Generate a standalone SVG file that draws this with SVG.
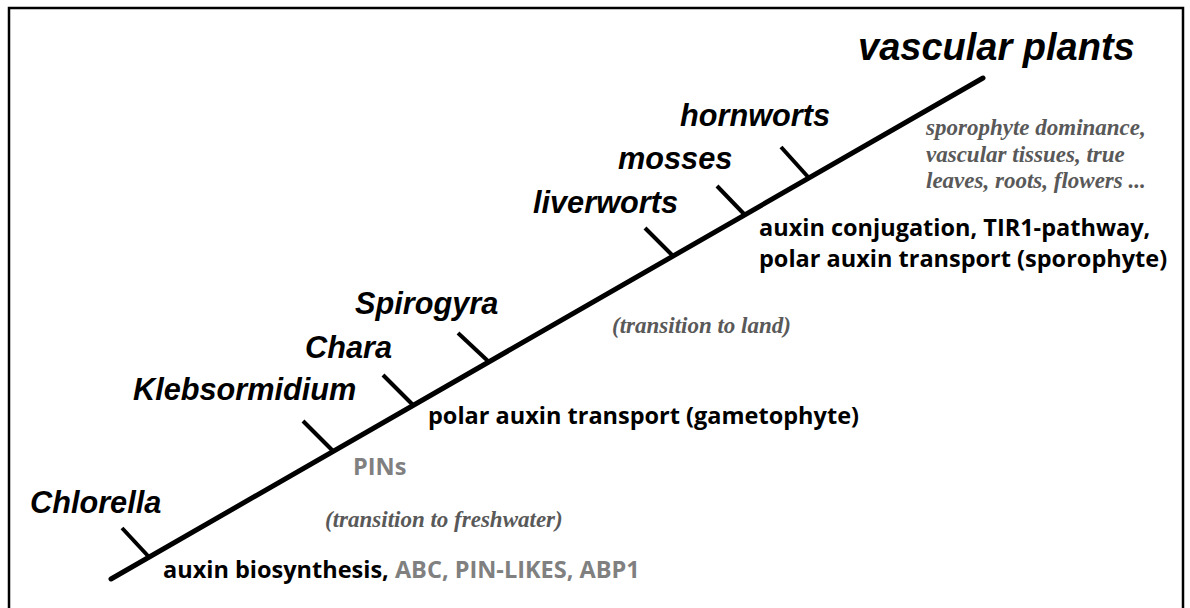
<svg xmlns="http://www.w3.org/2000/svg" width="1190" height="608" viewBox="0 0 1190 608">
<style>
.clade{font-family:"Liberation Sans",Arial,sans-serif;font-weight:bold;font-style:italic;font-size:30.7px;fill:#000}
.big{font-size:38px}
.tick{stroke:#000;stroke-width:4;stroke-linecap:butt;fill:none}
.trait{font-family:"Open Sans","Liberation Sans",sans-serif;font-weight:bold;font-size:23.5px;fill:#000}
.grey{fill:#808080}
.note{font-family:"Liberation Serif","Times New Roman",serif;font-weight:bold;font-style:italic;font-size:23px;fill:#595959}
</style>
<rect x="9" y="8" width="1174" height="640" fill="#fff" stroke="#000" stroke-width="2.5"/>
<g id="connectors">
<line x1="111" y1="579" x2="983" y2="78" stroke="#000" stroke-width="5" stroke-linecap="round"/>
</g>
<g id="chlorella">
<line class="tick" x1="122" y1="528" x2="149" y2="557"/>
<text class="clade" x="30" y="513">Chlorella</text>
</g>
<g id="klebsormidium">
<line class="tick" x1="303" y1="421" x2="333" y2="451"/>
<text class="clade" x="133" y="400">Klebsormidium</text>
</g>
<g id="chara">
<line class="tick" x1="383" y1="375" x2="413" y2="405"/>
<text class="clade" x="305" y="358">Chara</text>
</g>
<g id="spirogyra">
<line class="tick" x1="458" y1="333" x2="489" y2="362"/>
<text class="clade" x="355" y="314">Spirogyra</text>
</g>
<g id="liverworts">
<line class="tick" x1="645" y1="228" x2="673" y2="256"/>
<text class="clade" x="533" y="213">liverworts</text>
</g>
<g id="mosses">
<line class="tick" x1="717" y1="186" x2="745" y2="215"/>
<text class="clade" x="618" y="169">mosses</text>
</g>
<g id="hornworts">
<line class="tick" x1="781" y1="147" x2="809" y2="178"/>
<text class="clade" x="680" y="126">hornworts</text>
</g>
<g id="vascular-plants">
<text class="clade big" x="858" y="60">vascular plants</text>
</g>
<g id="annotations">
<text class="trait" x="163" y="578">auxin biosynthesis, <tspan class="grey">ABC, PIN-LIKES, ABP1</tspan></text>
<text class="note" x="325" y="527">(transition to freshwater)</text>
<text class="trait grey" x="353" y="475">PINs</text>
<text class="trait" x="428" y="424">polar auxin transport (gametophyte)</text>
<text class="note" x="612" y="333">(transition to land)</text>
<text class="trait" x="759" y="236">auxin conjugation, TIR1-pathway,</text>
<text class="trait" x="759" y="267">polar auxin transport (sporophyte)</text>
<text class="note" x="926" y="135">sporophyte dominance,</text>
<text class="note" x="926" y="162">vascular tissues, true</text>
<text class="note" x="926" y="188">leaves, roots, flowers ...</text>
</g>
</svg>
